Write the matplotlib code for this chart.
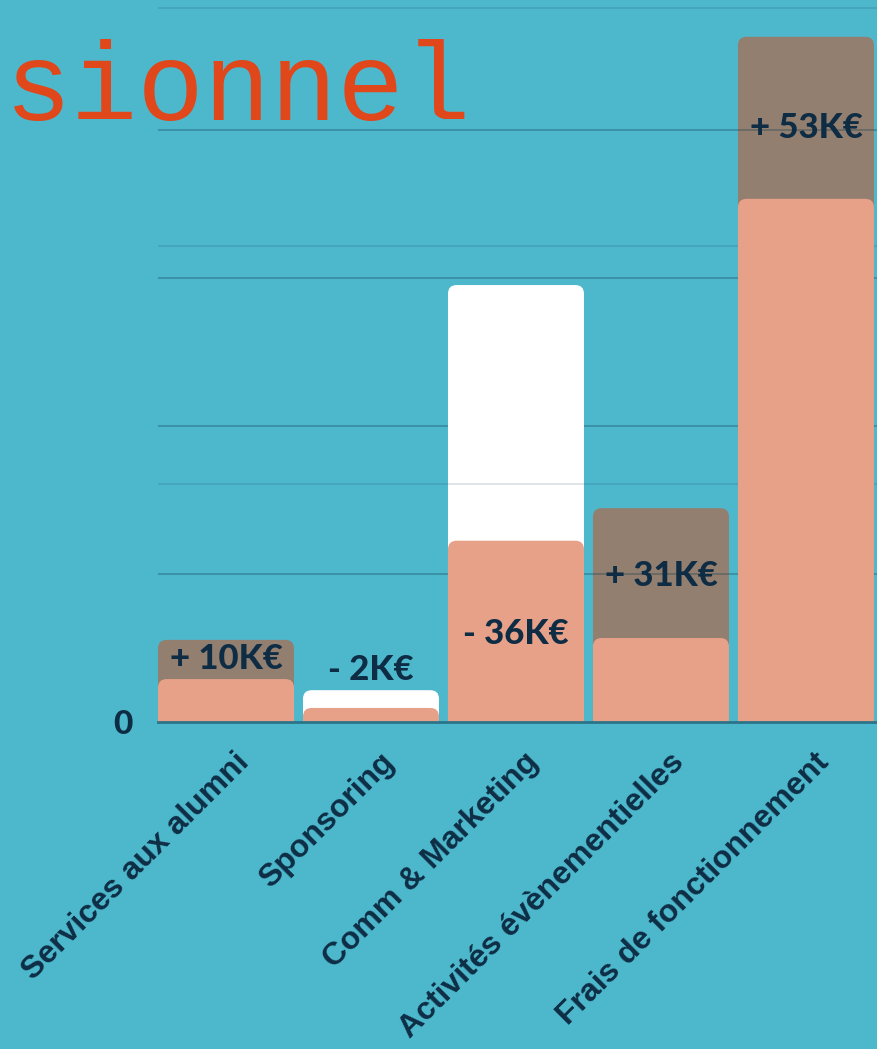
import matplotlib
matplotlib.use("Agg")
import matplotlib.pyplot as plt
from matplotlib.patches import FancyBboxPatch
from matplotlib.transforms import ScaledTranslation

categories = ["Services aux alumni", "Sponsoring", "Comm & Marketing",
              "Activités évènementielles", "Frais de fonctionnement"]
base_values = [5.8, 1.9, 24.5, 11.35, 70.7]      # salmon bars
outer_values = [11.1, 4.3, 59.05, 28.9, 92.6]    # bars behind
outer_up = [True, False, False, True, True]      # brown = up, white = down
change_labels = ["+ 10K€", "- 2K€", "- 36K€", "+ 31K€", "+ 53K€"]
label_heights = [8.5, 7.0, 11.9, 19.7, 80.3]
grid_a = [20, 40, 60, 80]
grid_b = [32.16, 64.32, 96.49]

bg = "#4db8cc"
salmon = "#e8a189"
brown = "#937f70"
navy = "#0e2d45"
orange = "#e0471a"

fig = plt.figure(figsize=(8.77, 10.49), dpi=100, facecolor=bg)
ax = fig.add_axes([158 / 877, 327 / 1049, 719 / 877, 722 / 1049])
ax.set_facecolor(bg)
ax.set_xlim(-0.469, 4.49)
ax.set_ylim(0, 97.57)

asp = 145 / 7.4
xs = list(range(len(categories)))


def round_bars(bars, colors, zorders):
    for b, c, z in zip(bars, colors, zorders):
        x0, w, h = b.get_x(), b.get_width(), b.get_height()
        b.remove()
        ax.add_patch(FancyBboxPatch((x0, -3), w, h + 3,
                                    boxstyle="round,pad=0,rounding_size=0.06",
                                    mutation_aspect=asp, fc=c, ec="none", zorder=z))


outer = ax.bar(xs, outer_values, width=0.938)
round_bars(outer, [brown if u else "white" for u in outer_up],
           [1 if u else 3 for u in outer_up])
base = ax.bar(xs, base_values, width=0.938)
round_bars(base, [salmon] * len(xs), [5] * len(xs))

for v in grid_a:
    ax.axhline(v, color=(0.05, 0.22, 0.3, 0.35), lw=1.2, zorder=2)
for v in grid_b:
    ax.axhline(v, color=(0.05, 0.22, 0.3, 0.15), lw=1.2, zorder=4)
ax.axhline(0, color="#2b7388", lw=2, zorder=6, clip_on=False)

for x, lab, h in zip(xs, change_labels, label_heights):
    ax.text(x, h, lab, ha="center", va="center", fontsize=25, fontweight="black",
            family="Lato", color=navy, zorder=7)

for s in ax.spines.values():
    s.set_visible(False)
ax.set_yticks([0])
ax.set_yticklabels(["0"], fontsize=24, fontweight="black", family="Lato", color=navy)
ax.tick_params(axis="y", length=0, pad=18)
ax.set_xticks(xs)
ax.set_xticklabels(categories, rotation=45, ha="right", va="top", rotation_mode="anchor",
                   fontsize=23, fontweight="bold", family="Liberation Sans", color=navy)
ax.tick_params(axis="x", length=0, pad=18)
for t in ax.get_xticklabels():
    t.set_transform(t.get_transform() + ScaledTranslation(0.08, 0, fig.dpi_scale_trans))

fig.text(5 / 877, 1 - 120 / 1049, "sionnel", family="Liberation Mono", fontsize=80,
         color=orange, va="baseline", ha="left")

fig.savefig("out.png", dpi=100, facecolor=bg)
